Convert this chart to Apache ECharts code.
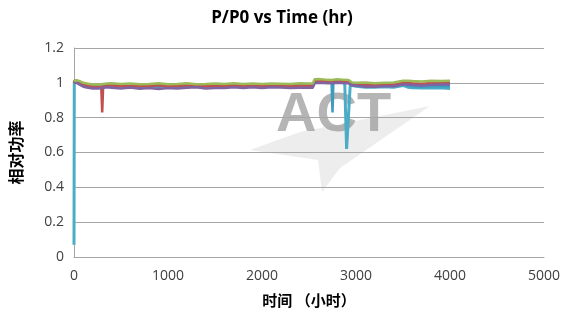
<!DOCTYPE html>
<html>
<head>
<meta charset="utf-8">
<script src="https://cdn.jsdelivr.net/npm/echarts@6/dist/echarts.min.js"></script>
<style>
  html, body { margin: 0; padding: 0; background: #fff; }
  #chart { width: 564px; height: 325px; }
</style>
</head>
<body>
<div id="chart"></div>
<script>
// Elapsed time (hours) shared by every sample
const hours = [0,3,10,30,60,100,150,200,250,290,
  300,310,350,400,500,600,700,800,900,1000,
  1100,1200,1300,1400,1500,1600,1700,1800,1900,2000,
  2100,2200,2300,2400,2500,2540,2560,2600,2700,2740,
  2750,2760,2800,2880,2900,2920,2940,2960,3000,3100,
  3200,3300,3400,3500,3550,3600,3700,3800,3900,4000];

// Relative power P/P0 for each module
const greenVals = [1.01,1.015,1.02,1.015,1.01,1.0,0.995,0.99,0.99,0.992,
  0.993,0.993,0.996,0.997,0.993,0.996,0.992,0.994,0.997,0.992,
  0.994,0.997,0.992,0.993,0.996,0.993,0.997,0.993,0.996,0.994,
  0.996,0.995,0.993,0.997,0.996,0.996,1.02,1.022,1.017,1.016,
  1.016,1.016,1.02,1.017,1.016,1.016,1.015,1.002,1.0,1.002,
  0.997,1.0,1.002,1.012,1.012,1.01,1.008,1.012,1.01,1.012];
const redVals = [1.0,1.005,1.015,1.01,1.0,0.99,0.985,0.98,0.978,0.976,
  0.83,0.98,0.984,0.986,0.982,0.985,0.98,0.983,0.986,0.981,
  0.983,0.986,0.98,0.982,0.985,0.981,0.986,0.982,0.985,0.983,
  0.985,0.983,0.981,0.984,0.983,0.983,1.01,1.011,1.008,1.008,
  1.008,1.008,1.01,1.008,1.008,1.008,1.007,0.99,0.99,0.991,
  0.987,0.99,0.991,1.0,1.0,0.998,0.995,0.999,0.998,1.0];
const purpleVals = [1.0,1.005,1.01,1.0,0.99,0.978,0.972,0.968,0.967,0.969,
  0.97,0.972,0.975,0.972,0.968,0.973,0.966,0.97,0.965,0.971,
  0.968,0.972,0.974,0.967,0.97,0.971,0.975,0.97,0.974,0.971,
  0.974,0.973,0.97,0.972,0.972,0.972,0.998,1.0,0.998,0.998,
  0.998,0.998,1.0,0.998,0.998,0.998,0.997,0.984,0.984,0.978,
  0.978,0.981,0.98,0.99,0.99,0.988,0.984,0.989,0.99,0.991];
const blueVals = [1.0,1.005,1.012,1.005,0.995,0.985,0.98,0.978,0.975,0.978,
  0.98,0.98,0.984,0.982,0.979,0.982,0.977,0.98,0.977,0.98,
  0.978,0.98,0.982,0.977,0.98,0.98,0.983,0.98,0.982,0.98,
  0.982,0.982,0.979,0.98,0.98,0.98,1.012,1.013,1.01,1.01,
  0.83,1.01,1.012,1.01,1.01,1.01,1.008,0.988,0.985,0.982,
  0.981,0.985,0.984,0.99,0.983,0.98,0.978,0.981,0.98,0.981];
const cyanVals = [0.07,1.005,1.01,1.005,0.995,0.99,0.986,0.985,0.982,0.986,
  0.986,0.986,0.99,0.991,0.986,0.99,0.985,0.989,0.986,0.985,
  0.989,0.986,0.988,0.985,0.987,0.989,0.985,0.988,0.986,0.989,
  0.986,0.987,0.985,0.989,0.987,0.987,1.008,1.01,1.005,1.005,
  1.005,1.005,1.01,1.005,0.62,0.615,1.0,0.985,0.98,0.975,
  0.975,0.978,0.975,0.985,0.975,0.972,0.97,0.97,0.972,0.968];

const xTicks = { min: 0, max: 5000, interval: 1000 };
const yTicks = { min: 0, max: 1.2, interval: 0.2 };

const pair = vals => hours.map((h, i) => [h, vals[i]]);

// drawn bottom to top
const seriesDefs = [
  { name: '5', color: '#4BACC6', vals: cyanVals, width: 3 },
  { name: '4', color: '#3E9BBE', vals: blueVals, width: 2.5 },
  { name: '2', color: '#C0504D', vals: redVals, width: 2.5 },
  { name: '3', color: '#8064A2', vals: purpleVals, width: 2.5 },
  { name: '1', color: '#9BBB59', vals: greenVals, width: 2.5 }
];

const chart = echarts.init(document.getElementById('chart'), null, { renderer: 'canvas' });

const labelFont = { fontFamily: '"Open Sans", "DejaVu Sans", sans-serif', fontSize: 14, color: '#404040' };

chart.setOption({
  animation: false,
  backgroundColor: '#ffffff',
  title: {
    text: 'P/P0 vs Time (hr)',
    left: 'center',
    top: 5,
    textStyle: { fontFamily: '"Open Sans", "DejaVu Sans", sans-serif', fontSize: 17, fontWeight: 'bold', color: '#000' }
  },
  grid: { left: 73, right: 20, top: 48, bottom: 68 },
  xAxis: {
    type: 'value',
    min: xTicks.min, max: xTicks.max, interval: xTicks.interval,
    name: '时间 （小时）',
    nameLocation: 'middle',
    nameGap: 36,
    nameTextStyle: { fontFamily: '"Noto Sans CJK SC", sans-serif', fontSize: 15, fontWeight: 'bold', color: '#000' },
    axisLine: { show: true, lineStyle: { color: '#A6A6A6', width: 1 } },
    axisTick: { show: false },
    splitLine: { show: false },
    axisLabel: Object.assign({ margin: 12, formatter: v => String(v) }, labelFont)
  },
  yAxis: {
    type: 'value',
    min: yTicks.min, max: yTicks.max, interval: yTicks.interval,
    name: '相对功率',
    nameLocation: 'middle',
    nameGap: 50,
    nameTextStyle: { fontFamily: '"Noto Sans CJK SC", sans-serif', fontSize: 16, fontWeight: 'bold', color: '#000' },
    axisLine: { show: true, lineStyle: { color: '#A6A6A6', width: 1 } },
    axisTick: { show: false },
    splitLine: { show: true, lineStyle: { color: '#A6A6A6', width: 1 } },
    axisLabel: Object.assign({ margin: 10, formatter: v => String(+v.toFixed(1)) }, labelFont)
  },
  graphic: [
    {
      type: 'polygon',
      z: 0,
      shape: { points: [[250, 150], [300, 132], [430, 106], [340, 168], [322, 192], [318, 160]] },
      style: { fill: 'rgba(190,190,190,0.28)' }
    },
    {
      type: 'text',
      z: 0,
      left: 276,
      top: 88,
      style: {
        text: 'ACT',
        fontFamily: 'Liberation Sans, Arial, sans-serif',
        fontSize: 56,
        fontWeight: 'bold',
        fill: 'rgba(150,150,150,0.7)'
      }
    }
  ],
  series: seriesDefs.map(s => ({
    name: s.name,
    type: 'line',
    data: pair(s.vals),
    showSymbol: false,
    symbol: 'none',
    z: 3,
    lineStyle: { color: s.color, width: s.width },
    itemStyle: { color: s.color }
  }))
});
</script>
</body>
</html>
